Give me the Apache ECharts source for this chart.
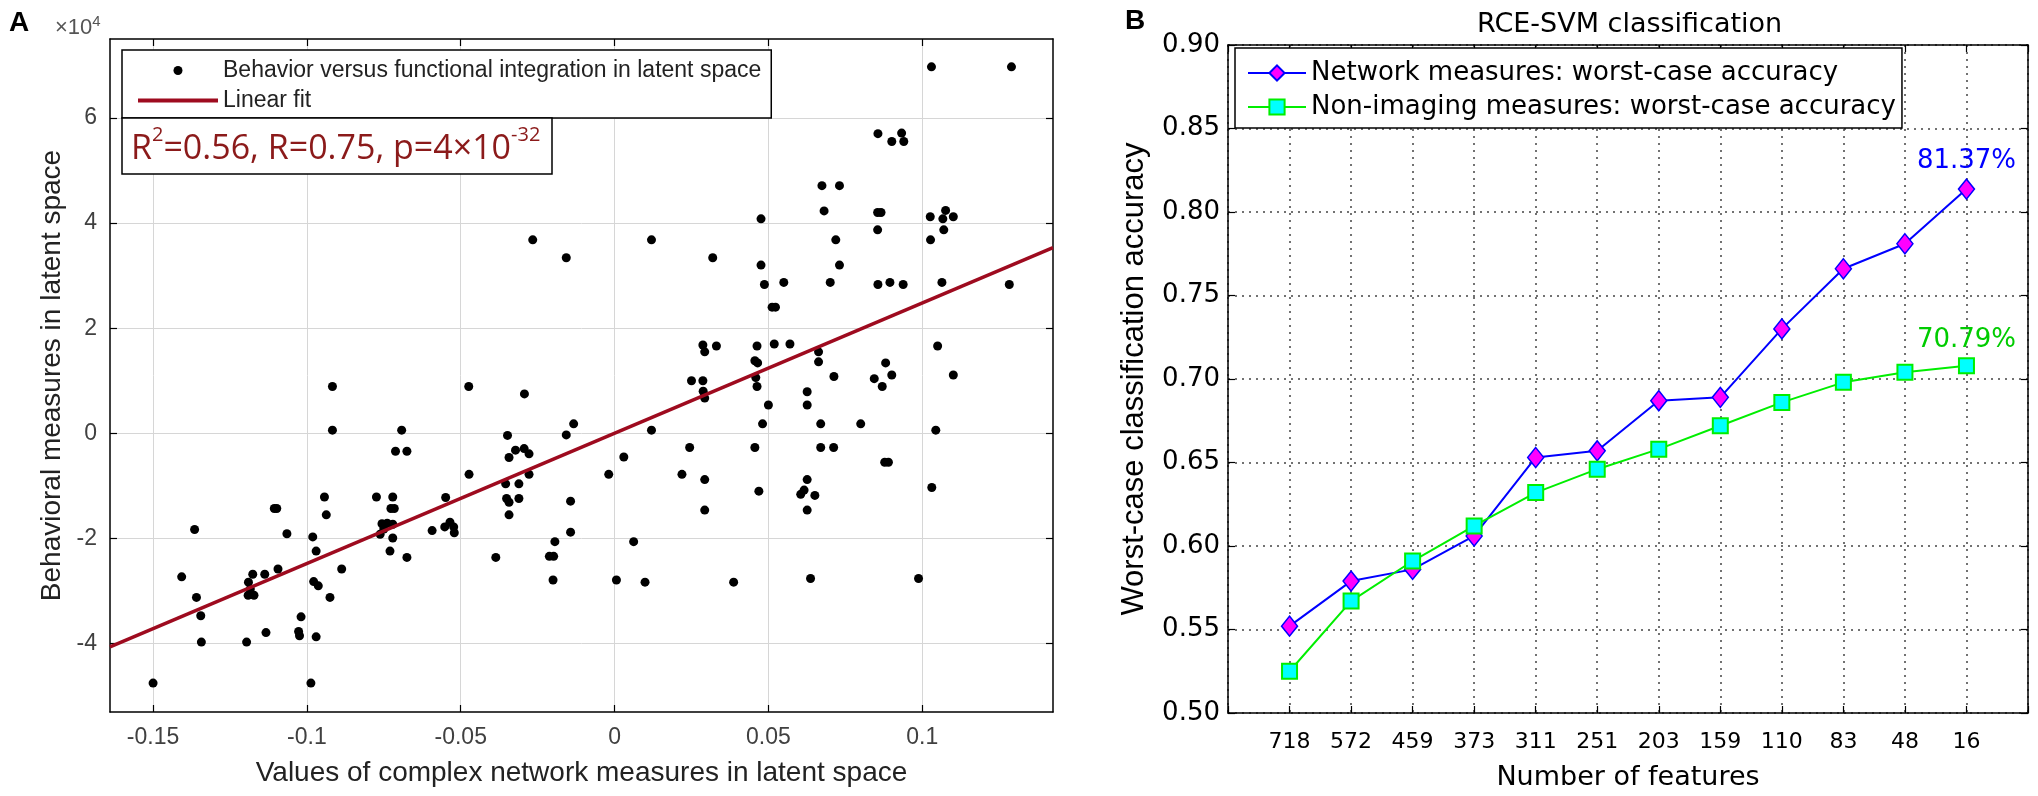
<!DOCTYPE html>
<html>
<head>
<meta charset="utf-8">
<title>Latent space fit and RCE-SVM classification</title>
<script src="https://cdn.jsdelivr.net/npm/echarts@6.0.0/dist/echarts.min.js"></script>
<style>
  html, body { margin: 0; padding: 0; background: #ffffff; }
  #chart { width: 2038px; height: 796px; }
</style>
</head>
<body>
<div id="chart"></div>
<script>
// Panel A: complex network measure (x) vs behaviour (y, in units of 1e4)
var integrationX = [
  0.103, 0.129, 0.0856, 0.0901, 0.0933, 0.094, 0.0674, 0.0731, 0.0681, 0.0855,
  0.0866, 0.0855, 0.1026, 0.1076, 0.1067, 0.1101, 0.107, 0.1027, 0.0476, 0.0719,
  0.012, -0.0157, 0.0319, 0.0476, 0.0731, 0.0487, 0.055, 0.0701, 0.0856, 0.0895,
  0.0938, 0.1064, 0.1283, 0.0512, 0.0523, 0.0287, 0.0293, 0.0331, 0.0463, 0.0519,
  0.057, 0.0663, 0.0663, 0.0456, 0.0465, 0.105, 0.0881, 0.025, 0.0287, 0.0288,
  0.0293, 0.0459, 0.0463, 0.0626, 0.0713, 0.0844, 0.087, 0.0901, 0.1101, 0.05,
  0.0626, 0.0481, -0.0133, -0.0157, 0.012, 0.067, 0.08, 0.1044, 0.0244, 0.0456,
  0.067, 0.0712, 0.003, -0.0019, 0.0219, 0.0293, 0.0878, 0.089, 0.0469, 0.0626,
  0.0605, 0.0616, 0.0651, 0.0626, 0.0293, 0.1031, -0.0143, -0.0143, -0.0194, -0.0212,
  -0.0198, -0.02, 0.0062, 0.0006, 0.0099, 0.0387, 0.0637, 0.0988, -0.0266, -0.0917,
  -0.0474, -0.0293, -0.0917, -0.0692, -0.0712, -0.0675, -0.0348, -0.0343, -0.0322, -0.0294,
  -0.0278, -0.0473, -0.0278, -0.0354, -0.0311, -0.0351, -0.0343, -0.0311, -0.0343, -0.0549,
  -0.0593, -0.0552, -0.0535, -0.0523, -0.0521, -0.0386, -0.0774, -0.0721, -0.0727, -0.0716,
  -0.0756, -0.0739, -0.0762, -0.0721, -0.0721, -0.073, -0.0675, -0.075, -0.0943, -0.0937,
  -0.1106, -0.1098, -0.1065, -0.0981, -0.097, -0.0887, -0.0978, -0.0963, -0.0925, -0.1019,
  -0.1027, -0.1024, -0.097, -0.0987, -0.1133, -0.1196, -0.1094, -0.1137, -0.1176, -0.119,
  -0.1184, -0.1191, -0.1172, -0.1365, -0.1407, -0.1359, -0.1345, -0.1343, -0.15
];
var behaviorY = [
  6.97, 6.97, 5.70, 5.55, 5.71, 5.55, 4.71, 4.71, 4.23, 4.20,
  4.20, 3.87, 4.12, 4.24, 4.08, 4.12, 3.87, 3.68, 4.08, 3.68,
  3.68, 3.34, 3.34, 3.20, 3.20, 2.83, 2.87, 2.87, 2.83, 2.87,
  2.83, 2.87, 2.83, 2.40, 2.40, 1.68, 1.55, 1.66, 1.66, 1.70,
  1.70, 1.55, 1.36, 1.38, 1.34, 1.66, 1.34, 1.00, 1.00, 0.80,
  0.67, 1.06, 0.89, 0.79, 1.08, 1.04, 0.89, 1.11, 1.11, 0.54,
  0.54, 0.18, 0.18, -0.03, 0.06, 0.18, 0.18, 0.06, -0.27, -0.27,
  -0.27, -0.27, -0.45, -0.78, -0.78, -0.88, -0.55, -0.55, -1.10, -0.88,
  -1.16, -1.08, -1.18, -1.46, -1.46, -1.03, -1.29, -1.88, -2.06, -2.34,
  -2.34, -2.79, -2.06, -2.79, -2.83, -2.83, -2.76, -2.76, 3.68, 0.89,
  0.89, 0.75, 0.06, 0.06, -0.34, -0.34, -0.04, -0.46, -0.32, -0.29,
  -0.39, -0.78, -0.78, -0.96, -0.96, -1.24, -1.31, -1.24, -1.55, -1.22,
  -1.85, -1.78, -1.69, -1.78, -1.89, -2.36, -1.21, -1.21, -1.43, -1.43,
  -1.72, -1.71, -1.92, -1.73, -1.99, -2.24, -2.36, -1.82, -1.21, -1.55,
  -1.43, -1.43, -1.91, -1.97, -2.24, -2.58, -2.82, -2.90, -3.12, -3.49,
  -3.77, -3.85, -3.87, -4.75, -3.79, -3.97, -2.58, -2.68, -2.68, -2.83,
  -2.96, -3.08, -3.08, -1.83, -2.73, -3.12, -3.47, -3.97, -4.75
];
// linear fit end points (x at the axis limits)
var fitX = [-0.164, 0.1425];
var fitY = [-4.06, 3.53];
var xTicksA = [-0.15, -0.1, -0.05, 0, 0.05, 0.1];
var yTicksA = [-4, -2, 0, 2, 4, 6];

// Panel B: RCE-SVM worst-case accuracy per number of features
var featureCounts = ['718', '572', '459', '373', '311', '251', '203', '159', '110', '83', '48', '16'];
var networkAcc = [0.552, 0.579, 0.586, 0.606, 0.653, 0.657, 0.687, 0.689, 0.730, 0.766, 0.781, 0.8137];
var nonImagingAcc = [0.525, 0.567, 0.591, 0.612, 0.632, 0.646, 0.658, 0.672, 0.686, 0.698, 0.704, 0.7079];

var scatterName = 'Behavior versus functional integration in latent space';
var fitName = 'Linear fit';
var networkName = 'Network measures: worst-case accuracy';
var nonImagingName = 'Non-imaging measures: worst-case accuracy';

var fontA = 'Liberation Sans, Arial, sans-serif';
var fontB = 'DejaVu Sans, Verdana, sans-serif';
var fontR = 'Open Sans, sans-serif';
var fitColor = '#9e0b1f';
var statColor = '#8b1a1a';

var chart = echarts.init(document.getElementById('chart'));

function zipPoints(xs, ys) {
  var out = [];
  for (var i = 0; i < xs.length; i++) {
    out.push([xs[i], ys[i]]);
  }
  return out;
}

// last point carries the percentage label
function accuracyPoints(values, color) {
  return values.map(function (v, i) {
    var item = { value: [i + 1, v] };
    if (i === values.length - 1) {
      item.label = {
        show: true,
        position: 'top',
        distance: 4,
        formatter: (v * 100).toFixed(2) + '%',
        color: color,
        fontSize: 26,
        fontFamily: fontB
      };
    }
    return item;
  });
}

// mirrored axes of panel A (top / right), ticks only
function boxAxisA(pos, min, max, ticks) {
  return {
    type: 'value',
    gridIndex: 0,
    position: pos,
    min: min,
    max: max,
    axisLine: { show: true, onZero: false, lineStyle: { color: '#000', width: 1.5 } },
    axisTick: { show: true, inside: true, length: 7, customValues: ticks, lineStyle: { color: '#000', width: 1.2 } },
    axisLabel: { show: false },
    splitLine: { show: false }
  };
}

function boxAxisB(pos, isX) {
  var axis = {
    type: 'value',
    gridIndex: 1,
    position: pos,
    axisLine: { show: true, onZero: false, lineStyle: { color: '#000', width: 1.5 } },
    axisTick: { show: true, inside: true, length: 7, lineStyle: { color: '#000', width: 1.2 } },
    axisLabel: { show: false },
    splitLine: { show: false }
  };
  if (isX) {
    axis.min = 0; axis.max = 13; axis.interval = 1;
  } else {
    axis.min = 0.5; axis.max = 0.9; axis.interval = 0.05;
  }
  return axis;
}

var axisAx = boxAxisA('bottom', -0.164, 0.1425, xTicksA);
axisAx.axisLabel = {
  show: true, customValues: xTicksA, margin: 14,
  fontSize: 23, fontFamily: fontA, color: '#404040',
  formatter: function (v) { return String(v); }
};
axisAx.splitLine = { show: true, lineStyle: { color: '#d6d6d6', width: 1 } };
axisAx.name = 'Values of complex network measures in latent space';
axisAx.nameLocation = 'middle';
axisAx.nameGap = 47;
axisAx.nameTextStyle = { fontSize: 28, fontFamily: fontA, color: '#222' };

var axisAy = boxAxisA('left', -5.3, 7.5, yTicksA);
axisAy.axisLabel = {
  show: true, customValues: yTicksA, margin: 13,
  fontSize: 23, fontFamily: fontA, color: '#404040'
};
axisAy.splitLine = { show: true, lineStyle: { color: '#d6d6d6', width: 1 } };
axisAy.name = 'Behavioral measures in latent space';
axisAy.nameLocation = 'middle';
axisAy.nameGap = 44;
axisAy.nameTextStyle = { fontSize: 28, fontFamily: fontA, color: '#222' };

var axisBx = boxAxisB('bottom', true);
axisBx.axisLabel = {
  show: true, margin: 18, fontSize: 22, fontFamily: fontB, color: '#000',
  formatter: function (v) { return featureCounts[v - 1] || ''; }
};
axisBx.splitLine = { show: true, lineStyle: { color: '#444', width: 1.5, type: [2, 5] } };
axisBx.name = 'Number of features';
axisBx.nameLocation = 'middle';
axisBx.nameGap = 51;
axisBx.nameTextStyle = { fontSize: 27, fontFamily: fontB, color: '#000' };

var axisBy = boxAxisB('left', false);
axisBy.axisLabel = {
  show: true, margin: 8, fontSize: 26, fontFamily: fontB, color: '#000',
  formatter: function (v) { return v.toFixed(2); }
};
axisBy.splitLine = { show: true, lineStyle: { color: '#444', width: 1.5, type: [2, 5] } };
axisBy.name = 'Worst-case classification accuracy';
axisBy.nameLocation = 'middle';
axisBy.nameGap = 78;
axisBy.nameTextStyle = { fontSize: 31, fontFamily: fontA, color: '#000' };

var option = {
  backgroundColor: '#ffffff',
  animation: false,
  title: [
    { text: 'A', left: 4, top: 4, textStyle: { fontSize: 28, fontWeight: 'bold', fontFamily: fontA, color: '#000' } },
    {
      text: '{t|×10}{s|4}', left: 50, top: 9,
      textStyle: { fontWeight: 'normal', rich: {
        t: { fontSize: 22, fontWeight: 'normal', fontFamily: fontA, color: '#555', lineHeight: 28 },
        s: { fontSize: 15, fontWeight: 'normal', fontFamily: fontA, color: '#555', lineHeight: 15, verticalAlign: 'top' }
      } }
    },
    {
      text: '{t|R}{s|2}{t|=0.56, R=0.75, p=4×10}{s|-32}',
      left: 122, top: 118,
      padding: [7, 12, 8, 9],
      borderColor: '#000', borderWidth: 1.5, backgroundColor: '#fff',
      textStyle: { fontWeight: 'normal', rich: {
        t: { fontSize: 34, fontWeight: 'normal', fontFamily: fontR, color: statColor, lineHeight: 48 },
        s: { fontSize: 20, fontWeight: 'normal', fontFamily: fontR, color: statColor, lineHeight: 26, verticalAlign: 'top' }
      } }
    },
    { text: 'B', left: 1120, top: 2, textStyle: { fontSize: 28, fontWeight: 'bold', fontFamily: fontA, color: '#000' } },
    { text: 'RCE-SVM classification', left: 1472, top: 6, textStyle: { fontSize: 27, fontWeight: 'normal', fontFamily: fontB, color: '#000' } }
  ],
  legend: [
    {
      orient: 'vertical', left: 122, top: 50,
      padding: [9, 10, 6, 14], itemGap: 7,
      itemWidth: 80, itemHeight: 9,
      borderColor: '#000', borderWidth: 1.5, backgroundColor: '#fff',
      selectedMode: false,
      lineStyle: { width: 4 },
      textStyle: { fontSize: 23, fontFamily: fontA, color: '#222' },
      data: [
        { name: scatterName, icon: 'circle' },
        { name: fitName, itemStyle: { color: 'rgba(0,0,0,0)', borderWidth: 0 } }
      ]
    },
    {
      orient: 'vertical', left: 1235, top: 48,
      padding: [12, 6, 8, 12], itemGap: 8,
      itemWidth: 58, itemHeight: 19,
      borderColor: '#000', borderWidth: 1.5, backgroundColor: '#fff',
      selectedMode: false,
      lineStyle: { width: 2 },
      textStyle: { fontSize: 26, fontFamily: fontB, color: '#000' },
      data: [networkName, nonImagingName]
    }
  ],
  grid: [
    { left: 110, top: 39, width: 943, height: 673 },
    { left: 1228, top: 45, width: 800, height: 668 }
  ],
  xAxis: [
    axisAx,
    boxAxisA('top', -0.164, 0.1425, xTicksA),
    axisBx,
    boxAxisB('top', true)
  ],
  yAxis: [
    axisAy,
    boxAxisA('right', -5.3, 7.5, yTicksA),
    axisBy,
    boxAxisB('right', false)
  ],
  series: [
    {
      type: 'scatter', name: scatterName,
      xAxisIndex: 0, yAxisIndex: 0,
      symbol: 'circle', symbolSize: 9,
      itemStyle: { color: '#000', opacity: 1 },
      data: zipPoints(integrationX, behaviorY)
    },
    {
      type: 'line', name: fitName,
      xAxisIndex: 0, yAxisIndex: 0,
      symbol: 'none',
      lineStyle: { color: fitColor, width: 3.5 },
      itemStyle: { color: fitColor },
      data: zipPoints(fitX, fitY)
    },
    {
      type: 'line', name: networkName,
      xAxisIndex: 2, yAxisIndex: 2,
      symbol: 'diamond', symbolSize: [16, 20],
      lineStyle: { color: '#0000ff', width: 2 },
      itemStyle: { color: '#ff00ff', borderColor: '#0000ff', borderWidth: 1.5 },
      data: accuracyPoints(networkAcc, '#0000ff')
    },
    {
      type: 'line', name: nonImagingName,
      xAxisIndex: 2, yAxisIndex: 2,
      symbol: 'rect', symbolSize: 15,
      lineStyle: { color: '#00ee00', width: 2 },
      itemStyle: { color: '#00ffff', borderColor: '#00ee00', borderWidth: 2 },
      data: accuracyPoints(nonImagingAcc, '#00cc00')
    }
  ]
};

chart.setOption(option);
</script>
</body>
</html>
